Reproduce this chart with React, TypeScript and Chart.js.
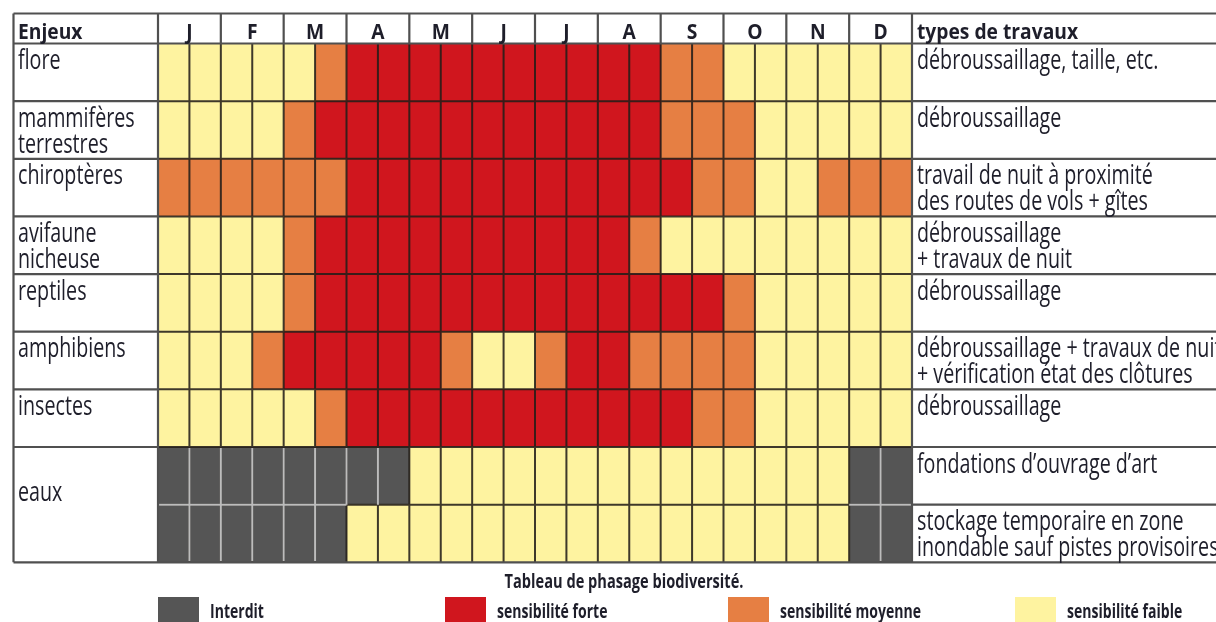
import React, { useEffect, useRef } from "react";
import { Chart, registerables } from "chart.js";

Chart.register(...registerables);

const W = 1216;
const H = 622;

// ---- data ----
const months = ["J", "F", "M", "A", "M", "J", "J", "A", "S", "O", "N", "D"];
const halfMonths = [
  "jan-1", "jan-2", "fév-1", "fév-2", "mar-1", "mar-2", "avr-1", "avr-2",
  "mai-1", "mai-2", "jun-1", "jun-2", "jul-1", "jul-2", "aoû-1", "aoû-2",
  "sep-1", "sep-2", "oct-1", "oct-2", "nov-1", "nov-2", "déc-1", "déc-2",
];
const rowKeys = [
  "flore", "mammifères terrestres", "chiroptères", "avifaune nicheuse", "reptiles",
  "amphibiens", "insectes", "eaux – fondations", "eaux – stockage",
];
// F = sensibilité faible, M = moyenne, S = forte, I = interdit
const flore       = "FFFFFMSSSSSSSSSSMMFFFFFF".split("");
const mammiferes  = "FFFFMSSSSSSSSSSSMMMFFFFF".split("");
const chiropteres = "MMMMMMSSSSSSSSSSSMMFFMMM".split("");
const avifaune    = "FFFFMSSSSSSSSSSMFFFFFFFF".split("");
const reptiles    = "FFFFMSSSSSSSSSSSSSMFFFFF".split("");
const amphibiens  = "FFFMSSSSSMFFMSSMMMMFFFFF".split("");
const insectes    = "FFFFFMSSSSSSSSSSSMMFFFFF".split("");
const eauxFond    = "IIIIIIIIFFFFFFFFFFFFFFII".split("");
const eauxStock   = "IIIIIIFFFFFFFFFFFFFFFFII".split("");
const levelRows = [flore, mammiferes, chiropteres, avifaune, reptiles, amphibiens, insectes, eauxFond, eauxStock];

const leftLabels = [
  ["flore"], ["mammifères", "terrestres"], ["chiroptères"], ["avifaune", "nicheuse"],
  ["reptiles"], ["amphibiens"], ["insectes"], [], [],
];
const rightLabels = [
  ["débroussaillage, taille, etc."],
  ["débroussaillage"],
  ["travail de nuit à proximité", "des routes de vols + gîtes"],
  ["débroussaillage", "+ travaux de nuit"],
  ["débroussaillage"],
  ["débroussaillage + travaux de nuit", "+ vérification état des clôtures"],
  ["débroussaillage"],
  ["fondations d’ouvrage d’art"],
  ["stockage temporaire en zone", "inondable sauf pistes provisoires"],
];
const legendCodes = ["I", "S", "M", "F"];
const legendLabels = ["Interdit", "sensibilité forte", "sensibilité moyenne", "sensibilité faible"];
const caption = "Tableau de phasage biodiversité.";

// ---- styles ----
const COLORS: Record<string, string> = {
  I: "#555555",
  S: "#d0161e",
  M: "#e67f43",
  F: "#fef3a0",
};
const TEXT = "#1e1e2a";
const STRUCT = "#505050";
const GRID = "rgba(35,30,25,0.88)";
const LIGHT = "#bcbcbc";

function txt(ctx: CanvasRenderingContext2D, s: string, x: number, y: number, size: number, bold: boolean, sx: number, sy: number, align: CanvasTextAlign = "left") {
  ctx.save();
  ctx.translate(x, y);
  ctx.scale(sx, sy);
  ctx.font = `${bold ? "700 " : ""}${size}px "Open Sans", "DejaVu Sans", sans-serif`;
  ctx.textAlign = align;
  ctx.textBaseline = "alphabetic";
  ctx.fillStyle = TEXT;
  ctx.fillText(s, 0, 0);
  ctx.restore();
}

const tablePlugin = {
  id: "tableDecor",
  beforeDraw(chart: any) {
    const ctx = chart.ctx as CanvasRenderingContext2D;
    ctx.save();
    ctx.fillStyle = "#ffffff";
    ctx.fillRect(0, 0, chart.width, chart.height);
    ctx.restore();
  },
  afterDatasetsDraw(chart: any) {
    const ctx = chart.ctx as CanvasRenderingContext2D;
    const xs = chart.scales.x;
    const ys = chart.scales.y;
    const area = chart.chartArea;
    const nR = rowKeys.length;
    const rh = (area.bottom - area.top) / nR;
    const colX = (k: number) => xs.getPixelForValue(k);
    const rowY = (i: number) => ys.getPixelForValue(i) - rh / 2;
    const tableLeft = 13.5;
    const tableTop = 13.5;
    const headerBottom = area.top;
    const tableBottom = area.bottom;
    const gridL = colX(0);
    const gridR = colX(24);

    ctx.save();
    ctx.lineCap = "butt";
    // dark grid inside coloured area
    ctx.strokeStyle = GRID;
    ctx.lineWidth = 2;
    ctx.beginPath();
    for (let k = 1; k < 24; k++) {
      ctx.moveTo(colX(k), area.top);
      ctx.lineTo(colX(k), area.bottom);
    }
    for (let i = 1; i < nR; i++) {
      ctx.moveTo(gridL, rowY(i));
      ctx.lineTo(gridR, rowY(i));
    }
    ctx.stroke();
    // light lines between adjacent "interdit" cells
    ctx.strokeStyle = LIGHT;
    ctx.lineWidth = 2;
    ctx.beginPath();
    for (let i = 0; i < nR; i++) {
      for (let k = 1; k < 24; k++) {
        if (levelRows[i][k] === "I" && levelRows[i][k - 1] === "I") {
          ctx.moveTo(colX(k), rowY(i) + (i === 0 ? 0 : 1));
          ctx.lineTo(colX(k), rowY(i + 1) - (i === nR - 1 ? 1 : 0));
        }
      }
    }
    for (let i = 1; i < nR; i++) {
      for (let c = 0; c < 24; c++) {
        if (levelRows[i][c] === "I" && levelRows[i - 1][c] === "I") {
          ctx.moveTo(colX(c) + (c === 0 ? 1 : 0), rowY(i));
          ctx.lineTo(colX(c + 1) - (c === 23 ? 1 : 0), rowY(i));
        }
      }
    }
    ctx.stroke();

    // structure lines
    ctx.strokeStyle = STRUCT;
    ctx.lineWidth = 2.2;
    ctx.beginPath();
    // top, header bottom, bottom
    ctx.moveTo(tableLeft, tableTop); ctx.lineTo(W, tableTop);
    ctx.moveTo(tableLeft, headerBottom); ctx.lineTo(W, headerBottom);
    ctx.moveTo(tableLeft, tableBottom); ctx.lineTo(W, tableBottom);
    // left border
    ctx.moveTo(tableLeft, tableTop); ctx.lineTo(tableLeft, tableBottom);
    // Enjeux | grid | types
    ctx.moveTo(gridL, tableTop); ctx.lineTo(gridL, tableBottom);
    ctx.moveTo(gridR, tableTop); ctx.lineTo(gridR, tableBottom);
    // month separators in header
    for (let m = 1; m < 12; m++) {
      ctx.moveTo(colX(m * 2), tableTop); ctx.lineTo(colX(m * 2), headerBottom);
    }
    // row lines in left column (eaux merged) and right column
    for (let i = 1; i < nR; i++) {
      if (i !== 8) {
        ctx.moveTo(tableLeft, rowY(i)); ctx.lineTo(gridL, rowY(i));
      }
      ctx.moveTo(gridR, rowY(i)); ctx.lineTo(W, rowY(i));
    }
    ctx.stroke();

    // header text
    const HS = 22, HSX = 0.875, HSY = 1.0;
    txt(ctx, "Enjeux", 18, 39, HS, true, HSX, HSY);
    txt(ctx, "types de travaux", gridR + 5, 39, HS, true, HSX, HSY);
    months.forEach((m, i) => {
      const cx = (colX(i * 2) + colX(i * 2 + 2)) / 2;
      txt(ctx, m, cx, 39, HS, true, HSX, HSY, "center");
    });

    // body text
    const BS = 24, BSX = 0.82, BSY = 1.1;
    for (let i = 0; i < nR; i++) {
      const top = rowY(i);
      leftLabels[i].forEach((s, j) => txt(ctx, s, 18, top + 25.5 + j * 26, BS, false, BSX, BSY));
      rightLabels[i].forEach((s, j) => txt(ctx, s, gridR + 5, top + 25.5 + j * 26, BS, false, BSX, BSY));
    }
    // merged eaux label
    txt(ctx, "eaux", 18, (rowY(7) + rowY(9)) / 2 - 4, BS, false, BSX, BSY);

    // caption
    txt(ctx, caption, 624, 588, 18.5, true, 0.79, 1.05, "center");

    // legend
    const legX = [158, 445, 728, 1015];
    legendCodes.forEach((code, i) => {
      ctx.fillStyle = COLORS[code];
      ctx.fillRect(legX[i], 597, 41, 30);
      txt(ctx, legendLabels[i], legX[i] + 52, 618, 18, true, 0.78, 1.1);
    });
    ctx.restore();
  },
};

export default function App() {
  const ref = useRef<HTMLCanvasElement>(null);
  useEffect(() => {
    if (!ref.current) return;
    const datasets = halfMonths.map((label, c) => ({
      label,
      data: levelRows.map(() => 1), // each cell spans one half-month
      backgroundColor: levelRows.map((row) => COLORS[row[c]]),
      borderWidth: 0,
      borderSkipped: false,
      barPercentage: 1,
      categoryPercentage: 1,
    }));
    const chart = new Chart(ref.current, {
      type: "bar",
      data: { labels: rowKeys, datasets },
      options: {
        indexAxis: "y",
        responsive: false,
        maintainAspectRatio: false,
        devicePixelRatio: 1,
        animation: false,
        events: [],
        layout: { padding: { left: 158, right: W - 912, top: 43.5, bottom: H - 562.3 } },
        plugins: { legend: { display: false }, tooltip: { enabled: false }, title: { display: false } },
        scales: {
          x: { type: "linear", stacked: true, min: 0, max: 24, display: false },
          y: { type: "category", stacked: true, display: false },
        },
      } as any,
      plugins: [tablePlugin],
    });
    return () => chart.destroy();
  }, []);
  return (
    <div style={{ position: "absolute", left: 0, top: 0, width: W, height: H, overflow: "hidden" }}>
      <canvas ref={ref} width={W} height={H} style={{ display: "block", width: W, height: H }} />
    </div>
  );
}
